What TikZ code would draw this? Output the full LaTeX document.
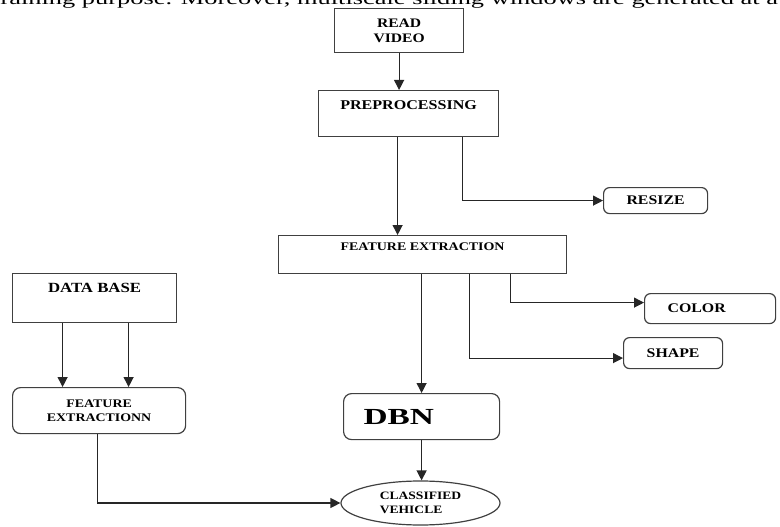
\documentclass[tikz,border=0pt]{standalone}
\usepackage{fontspec}
\setmainfont{Liberation Serif}
\newfontfamily\labelfont{Liberation Serif}[FakeStretch=1.2]
\newfontfamily\dbnfont{Liberation Serif}[FakeStretch=1.45]
\newfontfamily\capfont{Liberation Serif}[FakeStretch=1.5]
\usetikzlibrary{arrows.meta,positioning,shapes.geometric,calc}

\newcommand{\lblfont}[2]{\labelfont\bfseries\fontsize{#1}{#2}\selectfont}

\begin{document}
\begin{tikzpicture}[
      x=1pt,y=-1pt,
      every node/.style = {inner sep=0pt},
      box/.style = {rectangle,draw=black!75,line width=1.2pt,anchor=north west},
      roundbox/.style = {box,rounded corners=6pt},
      arrow/.style = {-{Triangle[length=10pt,width=10pt]},line width=1.2pt,black!85}
      ]
      \useasboundingbox (0,0) rectangle (780,527);
      \node (caption)[anchor=base west,font=\capfont\fontsize{17.6}{17.6}\selectfont] at (-7,4.5) {training purpose. Moreover, multiscale sliding windows are generated at a};

      \node (read)[box,minimum width=129pt,minimum height=44pt,align=center,font=\lblfont{13}{15}] at (334,8) {READ\\VIDEO};
      \node (pre)[box,minimum width=180pt,text height=19pt,text depth=27pt,font=\lblfont{13.4}{13.4}] at (318,90) {PREPROCESSING};
      \node (resize)[roundbox,minimum width=104pt,minimum height=26pt,font=\lblfont{13.2}{13.2}] at (603,187) {RESIZE};
      \node (fe)[box,minimum width=288pt,text height=15pt,text depth=23pt,font=\lblfont{11.65}{11.65}] at (278,235) {FEATURE EXTRACTION};
      \node (color)[roundbox,minimum width=131pt,minimum height=30pt,text width=85pt,inner xsep=23pt,align=left,font=\lblfont{13.2}{13.2}] at (644,293) {COLOR};
      \node (shape)[roundbox,minimum width=99pt,minimum height=31pt,font=\lblfont{13.2}{13.2}] at (623,337) {SHAPE};
      \node (db)[box,minimum width=164pt,text height=18.5pt,text depth=30.5pt,font=\lblfont{14}{14}] at (12,273) {DATA BASE};
      \node (fe2)[roundbox,rounded corners=8pt,minimum width=173pt,minimum height=46pt,align=center,font=\lblfont{11.6}{13.5}] at (12,387) {FEATURE\\EXTRACTIONN};
      \node (dbn)[roundbox,rounded corners=8pt,minimum width=156pt,minimum height=46pt,text width=116pt,inner xsep=20pt,align=left,font=\dbnfont\bfseries\fontsize{23}{23}\selectfont] at (343,393) {DBN};
      \node (vehicle)[ellipse,draw=black!75,line width=1.2pt,minimum width=159pt,minimum height=44pt,align=left,font=\lblfont{11.3}{14}] at (420.5,503) {CLASSIFIED\\VEHICLE};

      \draw[arrow] (read.south) -- (read.south |- pre.north);
      \draw[arrow] ([xshift=-11pt]pre.south) -- ([xshift=-11pt]pre.south |- fe.north);
      \draw[arrow] ([xshift=54pt]pre.south) |- (resize.west);
      \draw[arrow] (fe.south -| dbn.north) -- (dbn.north);
      \draw[arrow] ([xshift=88pt]fe.south) |- ([yshift=6pt]color.west);
      \draw[arrow] ([xshift=47pt]fe.south) |- ([yshift=-5pt]shape.west);
      \draw[arrow] (dbn.south) -- (dbn.south |- vehicle.north);
      \foreach \dx in {-32,34}
        \draw[arrow] ([xshift=\dx pt]db.south) -- ([xshift=\dx pt]db.south |- fe2.north);
      \draw[arrow] ([xshift=-2pt]fe2.south) |- (vehicle.west);
\end{tikzpicture}
\end{document}
